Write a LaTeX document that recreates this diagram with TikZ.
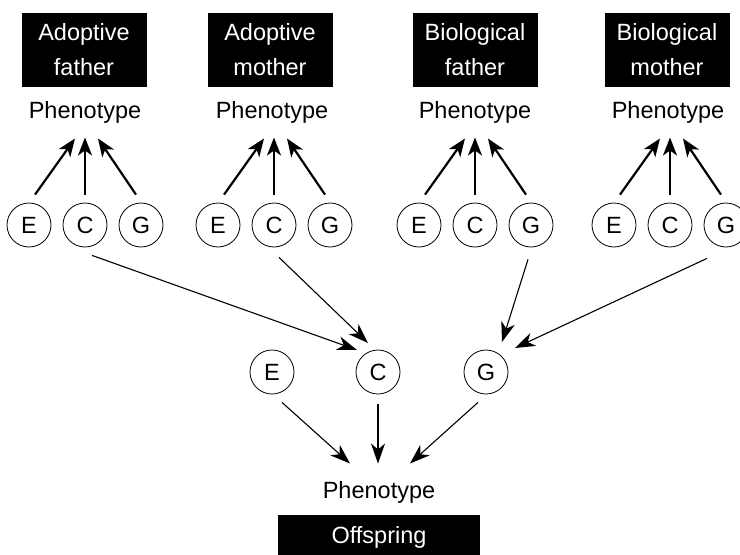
\documentclass[tikz,border=0pt]{standalone}
\usepackage{fontspec}
\setmainfont{Liberation Sans}
\usetikzlibrary{arrows.meta}
\begin{document}
\begin{tikzpicture}[x=1pt,y=-1pt,
    parentbox/.style={fill=black,text=white,align=center,minimum width=125pt,minimum height=74pt,inner sep=0pt,font=\fontsize{23.5}{35}\selectfont},
    childbox/.style={fill=black,text=white,minimum width=202pt,minimum height=44pt,inner sep=0pt,font=\fontsize{23.5}{28}\selectfont},
    pheno/.style={font=\fontsize{23.5}{28}\selectfont},
    factor/.style={circle,draw,line width=0.8pt,minimum size=44pt,inner sep=0pt,font=\fontsize{23.5}{28}\selectfont},
    up/.style={line width=2.2pt,-{Stealth[length=18pt,width=14pt,inset=5pt]}},
    down/.style={line width=1.1pt,-{Stealth[length=20pt,width=14pt,inset=6pt]}}]
    \useasboundingbox (0,0) rectangle (740,555);
    \node[parentbox] (af) at (84,50) {Adoptive\\father};
    \node[parentbox] (am) at (270,50) {Adoptive\\mother};
    \node[parentbox] (bf) at (475,50) {Biological\\father};
    \node[parentbox] (bm) at (667,50) {Biological\\mother};
    \node[pheno] (paf) at (85,112) {Phenotype};
    \node[pheno] (pam) at (272,112) {Phenotype};
    \node[pheno] (pbf) at (475,112) {Phenotype};
    \node[pheno] (pbm) at (668,112) {Phenotype};
    \node[factor] (eaf) at (29,225) {E};
    \node[factor] (caf) at (85,225) {C};
    \node[factor] (gaf) at (141,225) {G};
    \node[factor] (eam) at (218,225) {E};
    \node[factor] (cam) at (274,225) {C};
    \node[factor] (gam) at (330,225) {G};
    \node[factor] (ebf) at (419,225) {E};
    \node[factor] (cbf) at (475,225) {C};
    \node[factor] (gbf) at (531,225) {G};
    \node[factor] (ebm) at (614,225) {E};
    \node[factor] (cbm) at (670,225) {C};
    \node[factor] (gbm) at (726,225) {G};
    \draw[up] ([shift={(6,-8)}]eaf.north) -- ([shift={(-10,12)}]paf.south);
    \draw[up] ([shift={(0,-8)}]caf.north) -- ([shift={(0,11)}]paf.south);
    \draw[up] ([shift={(-5,-8)}]gaf.north) -- ([shift={(13,12)}]paf.south);
    \draw[up] ([shift={(6,-8)}]eam.north) -- ([shift={(-8,12)}]pam.south);
    \draw[up] ([shift={(0,-8)}]cam.north) -- ([shift={(2,11)}]pam.south);
    \draw[up] ([shift={(-5,-8)}]gam.north) -- ([shift={(15,12)}]pam.south);
    \draw[up] ([shift={(6,-8)}]ebf.north) -- ([shift={(-10,12)}]pbf.south);
    \draw[up] ([shift={(0,-8)}]cbf.north) -- ([shift={(0,11)}]pbf.south);
    \draw[up] ([shift={(-5,-8)}]gbf.north) -- ([shift={(13,12)}]pbf.south);
    \draw[up] ([shift={(6,-8)}]ebm.north) -- ([shift={(-8,12)}]pbm.south);
    \draw[up] ([shift={(0,-8)}]cbm.north) -- ([shift={(2,11)}]pbm.south);
    \draw[up] ([shift={(-5,-8)}]gbm.north) -- ([shift={(15,12)}]pbm.south);
    \node[factor] (eo) at (272,372) {E};
    \node[factor] (co) at (378,372) {C};
    \node[factor] (go) at (486,372) {G};
    \node[pheno] (po) at (379,492) {Phenotype};
    \node[childbox] (off) at (379,537) {Offspring};
    \draw[down] ([shift={(7,8)}]caf.south) -- ([shift={(-21,-22)}]co.center);
    \draw[down] ([shift={(5,10)}]cam.south) -- ([shift={(-10,-29)}]co.center);
    \draw[down] ([shift={(-3,12)}]gbf.south) -- ([shift={(16,-30)}]go.center);
    \draw[down] ([shift={(-19,11)}]gbm.south) -- ([shift={(29,-24)}]go.center);
    \draw[down] ([shift={(10,8)}]eo.south) -- ([shift={(-29,-14)}]po.north);
    \draw[down] ([shift={(0,10)}]co.south) -- ([shift={(-1,-14)}]po.north);
    \draw[down] ([shift={(-8,8)}]go.south) -- ([shift={(31,-14)}]po.north);
\end{tikzpicture}
\end{document}
